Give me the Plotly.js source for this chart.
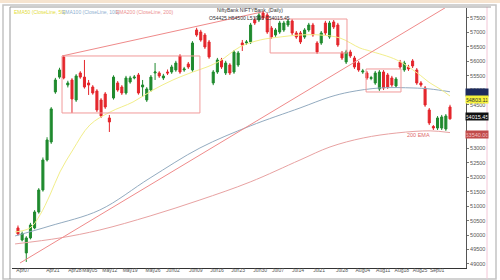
<!DOCTYPE html>
<html><head><meta charset="utf-8">
<script src="https://cdn.plot.ly/plotly-3.0.1.min.js"></script>
<style>html,body{margin:0;padding:0;background:#fff;}#chart{width:500px;height:280px;}</style>
</head><body><div id="chart"></div>
<script>
// ---- data ----
const openV = [
 50245,49830,49381,49899,50245,50797,51557,52594,53216,54943,
 55458,56153,55185,55358,54667,55600,55458,55254,55116,54978,
 54667,54874,54045,54736,55254,55116,54909,55289,55427,55531,
 55116,54667,55012,55600,55600,55427,55634,55634,55704,56187,
 55704,55911,55704,57086,57016,56913,56671,55254,55634,56049,
 55600,55876,55634,55876,56636,56636,56671,57431,57431,57673,
 57604,57155,56913,57016,57086,57258,57397,56982,56982,56844,
 57086,57258,56636,56636,57327,56844,57362,57258,56291,55980,
 56325,56118,55945,55634,55600,55410,55254,55047,55634,55531,
 55427,55151,55980,55704,55807,56015,55704,55254,55082,54322,
 53750,53698,53698,53665,54425];
const highV = [
 50330,50120,49960,50420,50860,51620,52680,53380,54420,55430,
 55780,56220,55330,55420,55560,55660,56049,55358,55180,55040,
 54730,54940,54149,55520,55320,55180,55500,55500,55530,55600,
 55358,55110,55530,55945,55660,55570,55720,55880,56020,56250,
 55810,55980,56700,57160,57090,56980,56740,55700,56120,56120,
 56020,55940,56390,56360,56740,56740,57330,57500,57673,57740,
 57670,57220,57150,57400,57400,57460,57460,57050,57050,57150,
 57330,57330,56700,57050,57400,57400,57430,57330,56360,56400,
 56400,56190,56010,55740,55670,55500,55670,55700,55700,55600,
 55500,55460,56050,56020,55880,56080,55770,55320,55150,54390,
 53800,54110,54150,54180,54500];
const lowV = [
 49980,49780,49070,49850,50200,50740,51500,52540,53150,54880,
 55400,55380,55100,54218,54600,55400,55060,54840,54850,54250,
 54045,54360,53561,54680,54950,54840,54850,55230,55380,54850,
 54771,54600,54950,55358,55430,55358,55530,55570,55640,55570,
 55640,55740,55640,56850,56680,56430,56090,55180,55570,55740,
 55530,55530,55570,55810,56360,56570,56600,57260,57360,57430,
 56950,56780,56850,56950,57020,57190,56910,56780,56600,56780,
 57020,56850,56260,56570,56910,56780,57120,56500,56050,55910,
 56120,55740,55640,55570,55360,55350,55190,54980,55010,55050,
 55120,55090,55740,55640,55670,55770,55190,55120,54430,53800,
 53630,53630,53630,53600,53990];
const closeV = [
 50037,50050,49899,50348,50797,51557,52594,53285,54358,55358,
 55704,55427,55254,54702,55496,55458,55116,55185,54909,54322,
 54114,54425,53907,55458,55012,54909,55427,55427,55458,54909,
 55185,55047,55458,55634,55496,55496,55600,55807,55945,55634,
 55738,55807,56636,56913,56740,56498,56153,55634,56049,55807,
 55945,55600,56325,56291,56567,56671,57258,57327,57604,57500,
 57016,56844,57086,57327,57327,57397,56982,56844,56671,57086,
 57258,56913,56325,56982,56982,57327,57189,56567,56118,56325,
 56187,55807,55704,55670,55427,55440,55600,55634,55082,55116,
 55185,55393,55807,55945,55738,55842,55254,55185,54494,53872,
 53700,54045,54080,54114,54015.45];

// EMA curves: [candle index, value] read at sample points
const ema50Idx = [-0.7,2.9,5.3,7.7,10.1,13.2,17.3,22.2,27.7,32.5,37.3,42.1,45.5,48.6,53.4,58.3,63.1,67.9,72.7,77.5,82.3,84.7,91.2,96.1,99.2,101.6,104];
const ema50Val = [50106,50245,50694,51385,52180,52940,53803,54252,54598,55012,55358,55634,55807,56015,56498,56740,56844,56913,56913,56809,56464,56360,56049,55600,55254,55047,54803.11];
const ema100Idx = [-0.7,7.7,19.7,31.8,43.8,55.9,67.9,75.1,79.9,87.1,95.1,99.2,104];
const ema100Val = [49968,50314,50866,51972,53009,53769,54391,54771,54943,55082,55082,55047,54950];
const ema200Idx = [-0.7,10.1,19.7,31.8,43.8,55.9,67.9,75.1,83.1,91.2,99.2,104];
const ema200Val = [49692,49899,50175,50659,51212,51834,52594,53043,53354,53527,53600,53540];

const tickPos = [1.2,8.4,13.7,17.3,22.1,27,32.5,37.3,42.8,47.9,53,58.3,62.6,67.4,72.5,78,83,87.9,92.4,96.8,100.9];
const tickText = ["Apr07","Apr21","Apr28","May05","May12","May19","May26","Jun02","Jun09","Jun16","Jun23","Jun30","Jul07","Jul14","Jul21","Jul28","Aug04","Aug11","Aug18","Aug25","Sep01"];
const priceTicks = [49000,49500,50000,50500,51000,51500,52000,52500,53000,54500,55000,55500,56000,56500,57000,57500];

// drawings: boxes [i0,i1,p0,p1], lines [i0,p0,i1,p1]
const boxes = [[10.6,43.8,56187,54218],[60.7,79.2,57465,56291],[83.8,92.2,55738,54943]];
const trendLines = [[0.5,49035,102.8,57850],[10.6,56187,58.7,57707]];

const lastClose = 54015.45, lastEma50 = 54803.11, lastEma100 = 54950, lastEma200 = 53540;

// ---- chart ----
const idx = openV.map((_, i) => i);
const traces = [
 {type:'scatter',mode:'lines',x:ema200Idx,y:ema200Val,line:{color:'#e8a2a2',width:1,shape:'spline'},hoverinfo:'skip'},
 {type:'scatter',mode:'lines',x:ema100Idx,y:ema100Val,line:{color:'#93abc0',width:1,shape:'spline'},hoverinfo:'skip'},
 {type:'scatter',mode:'lines',x:ema50Idx,y:ema50Val,line:{color:'#f2ee8a',width:1,shape:'spline'},hoverinfo:'skip'},
 {type:'candlestick',x:idx,open:openV,high:highV,low:lowV,close:closeV,
  increasing:{line:{color:'#1f8a2e',width:1},fillcolor:'#1f8a2e'},
  decreasing:{line:{color:'#e4262c',width:1},fillcolor:'#e4262c'}}
];

const px = v => (v-12)/454, py = v => (268-v)/260;
const shapes = [];
boxes.forEach(b => shapes.push({type:'rect',xref:'x',yref:'y',x0:b[0],x1:b[1],y0:b[2],y1:b[3],line:{color:'#f19a9a',width:1},fillcolor:'rgba(0,0,0,0)'}));
trendLines.forEach(l => shapes.push({type:'line',xref:'x',yref:'y',x0:l[0],y0:l[1],x1:l[2],y1:l[3],line:{color:'#ef8a8a',width:1}}));
// frame
shapes.push({type:'rect',xref:'paper',yref:'paper',x0:px(-2),x1:px(502),y0:py(0),y1:py(3),line:{width:0},fillcolor:'#f6e4d0',layer:'below'});
shapes.push({type:'rect',xref:'paper',yref:'paper',x0:px(3),x1:px(496),y0:py(279),y1:py(5),line:{color:'#c4c4c4',width:1.5},fillcolor:'rgba(0,0,0,0)',layer:'below'});
shapes.push({type:'line',xref:'paper',yref:'paper',x0:px(10),x1:px(10),y0:py(7),y1:py(279),line:{color:'#9a9a9a',width:1},layer:'below'});
shapes.push({type:'line',xref:'paper',yref:'paper',x0:px(10),x1:px(491),y0:py(7),y1:py(7),line:{color:'#9a9a9a',width:1}});
shapes.push({type:'line',xref:'paper',yref:'paper',x0:px(487),x1:px(487),y0:py(7),y1:py(279),line:{color:'#f2c6d6',width:1},layer:'below'});

const boxLbl = (val, txt, bg, fg, ys) => ({xref:'paper',yref:'y',x:px(465),y:val,xanchor:'left',yanchor:'middle',yshift:ys,
  text:txt,showarrow:false,bgcolor:bg,font:{size:5.5,color:fg,family:'Liberation Sans'},width:21,height:6,borderpad:0.5});
const annotations = [
 {xref:'paper',yref:'paper',x:px(12),y:py(12),xanchor:'left',yanchor:'middle',showarrow:false,text:'EMA50 (CloseLine, 50)',font:{size:5,color:'#e3dc3a',family:'Liberation Sans'}},
 {xref:'paper',yref:'paper',x:px(60),y:py(12),xanchor:'left',yanchor:'middle',showarrow:false,text:'EMA100 (CloseLine, 100)',font:{size:5,color:'#8fb0d0',family:'Liberation Sans'}},
 {xref:'paper',yref:'paper',x:px(114),y:py(12),xanchor:'left',yanchor:'middle',showarrow:false,text:'EMA200 (CloseLine, 200)',font:{size:5,color:'#ec9090',family:'Liberation Sans'}},
 {xref:'paper',yref:'paper',x:px(250),y:py(10),xanchor:'center',yanchor:'middle',showarrow:false,text:'NiftyBank NIFTYBank_(Daily)',font:{size:5,color:'#333',family:'Liberation Sans'}},
 {xref:'paper',yref:'paper',x:px(250),y:py(18),xanchor:'center',yanchor:'middle',showarrow:false,text:'O54425 H54500 L53990 C54015.45',font:{size:5,color:'#333',family:'Liberation Sans'}},
 {xref:'x',yref:'y',x:96.3,y:53458,xanchor:'center',yanchor:'middle',showarrow:false,text:'200 EMA',font:{size:5.5,color:'#e06a6a',family:'Liberation Sans'}},
 boxLbl(lastEma100, '', '#1d2b5c', '#fff', -1),
 boxLbl(lastEma50, lastEma50.toFixed(2), '#f6f23c', '#333', -3),
 boxLbl(lastClose, lastClose.toFixed(2), '#111', '#fff', 2),
 boxLbl(lastEma200, lastEma200.toFixed(2), '#c04a4a', '#f4c0c0', -2)
];

const layout = {
 width:500,height:280,margin:{l:12,r:34,t:8,b:12},
 paper_bgcolor:'#fff',plot_bgcolor:'#fff',showlegend:false,
 xaxis:{range:[-1.44,107.85],showgrid:false,zeroline:false,tickmode:'array',tickvals:tickPos,ticktext:tickText,
   tickangle:0,tickfont:{size:5,color:'#555',family:'Liberation Sans'},ticks:'',ticklabelstandoff:-3,showline:true,linecolor:'#333',linewidth:1,
   rangeslider:{visible:false},fixedrange:true},
 yaxis:{side:'right',range:[48861,57845],showgrid:false,zeroline:false,tickmode:'array',tickvals:priceTicks,
   tickformat:'d',tickfont:{size:5.5,color:'#555',family:'Liberation Sans'},ticks:'outside',ticklen:2,tickcolor:'#777',
   showline:true,linecolor:'#555',linewidth:1,fixedrange:true},
 shapes:shapes,annotations:annotations
};
Plotly.newPlot('chart',traces,layout,{staticPlot:true,displayModeBar:false});
</script></body></html>
